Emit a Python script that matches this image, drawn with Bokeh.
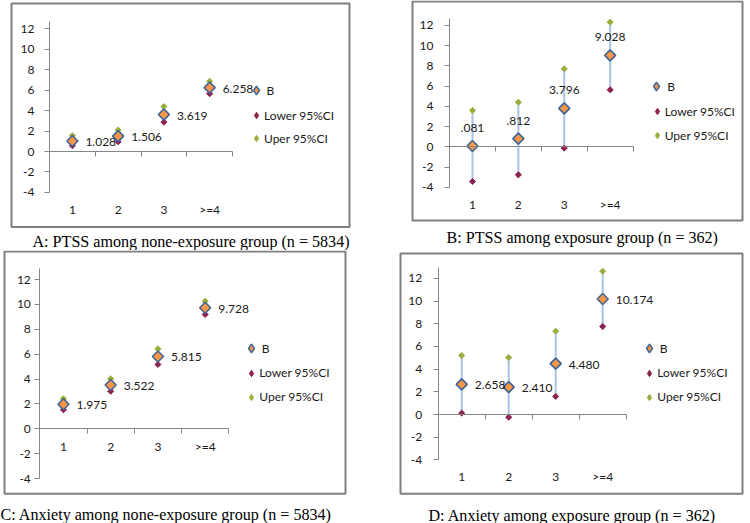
import math
from bokeh.plotting import figure
from bokeh.models import (Range1d, LinearAxis, FixedTicker, Legend, LegendItem,
                          Label, BoxAnnotation, ColumnDataSource)
from bokeh.layouts import row, column
from bokeh.embed import file_html
from bokeh.resources import INLINE
from bokeh.core.properties import value

# ---------------- data ----------------
categories = ["1", "2", "3", ">=4"]
cat_pos = [1, 2, 3, 4]
y_ticks = [-4, -2, 0, 2, 4, 6, 8, 10, 12]
legend_labels = ["B", "Lower 95%CI", "Uper 95%CI"]

a_b = [1.028, 1.506, 3.619, 6.258]
a_lower = [0.57, 0.96, 2.88, 5.66]
a_upper = [1.55, 2.10, 4.40, 6.88]
a_text = ["1.028", "1.506", "3.619", "6.258"]

b_b = [0.081, 0.812, 3.796, 9.028]
b_lower = [-3.43, -2.77, -0.13, 5.63]
b_upper = [3.59, 4.41, 7.70, 12.31]
b_text = [".081", ".812", "3.796", "9.028"]

c_b = [1.975, 3.522, 5.815, 9.728]
c_lower = [1.53, 3.02, 5.17, 9.19]
c_upper = [2.41, 4.02, 6.43, 10.26]
c_text = ["1.975", "3.522", "5.815", "9.728"]

d_b = [2.658, 2.410, 4.480, 10.174]
d_lower = [0.12, -0.24, 1.59, 7.75]
d_upper = [5.20, 5.02, 7.34, 12.62]
d_text = ["2.658", "2.410", "4.480", "10.174"]

captions = ["A: PTSS among none-exposure group (n = 5834)",
            "B: PTSS among exposure group (n = 362)",
            "C: Anxiety among none-exposure group (n = 5834)",
            "D: Anxiety among exposure group (n = 362)"]

# ---------------- style ----------------
B_FILL = "#F79646"
B_LINE = "#3F6496"
LOW_C = "#8E2350"
UP_C = "#9AAE3C"
SEG_C = "#A9C3E5"
AX_C = "#868686"
BOX_C = "#7F7F7F"
TXT_C = "#1a1a1a"
SANS = "Lato"
SERIF = "Liberation Serif"

# geometry in page pixels (cap_mid = vertical middle of the caption line)
geoms = [
    dict(fig=(0, 0, 375, 250), box=(11, 3, 349, 226.5), ax=49, cw=45.75, y0=151, ppu=10.21,
         lab_y=209, ytop=12.76, leg_x=257, leg_y=(90, 115, 138), cap_x=32, cap_mid=240.5,
         std=10, pos="right"),
    dict(fig=(375, 0, 374, 250), box=(412, 1, 742, 220), ax=449, cw=45.9, y0=146.3, ppu=10.125,
         lab_y=204, ytop=12.67, leg_x=657.7, leg_y=(86, 111, 135), cap_x=446, cap_mid=237.3,
         std=11, pos="above"),
    dict(fig=(0, 250, 375, 273), box=(4, 251, 345, 493.3), ax=39.3, cw=47.25, y0=428.3, ppu=12.44,
         lab_y=446.7, ytop=12.9, leg_x=252.3, leg_y=(348.3, 372.7, 396.7), cap_x=0,
         cap_mid=513.8, std=4, pos="right"),
    dict(fig=(375, 250, 374, 273), box=(400, 253, 742, 493.3), ax=437.7, cw=47, y0=414, ppu=11.35,
         lab_y=476.7, ytop=12.98, leg_x=650.3, leg_y=(348.3, 372.7, 396.7), cap_x=428,
         cap_mid=514.8, std=11, pos="right"),
]


def make_panel(g, bvals, lo, hi, texts, caption):
    fx, fy, fw, fh = g["fig"]
    L, T, R, Bt = g["box"]
    ax, cw, y0, ppu = g["ax"], g["cw"], g["y0"], g["ppu"]

    def xv(px):
        return (px - ax) / cw + 0.5

    def yv(py):
        return (y0 - py) / ppu

    p = figure(width=fw, height=fh, x_range=Range1d(xv(fx), xv(fx + fw)),
               y_range=Range1d(yv(fy + fh), yv(fy)),
               x_axis_type=None, y_axis_type=None, toolbar_location=None,
               output_backend="svg",
               min_border_left=0, min_border_right=0, min_border_top=0, min_border_bottom=0)
    p.outline_line_color = None
    p.background_fill_color = "white"
    p.border_fill_color = "white"

    # chart-area border
    p.add_layout(BoxAnnotation(left=xv(L), right=xv(R), top=yv(T), bottom=yv(Bt),
                               fill_color=None, fill_alpha=0, line_color=BOX_C,
                               line_alpha=1, line_width=2, line_dash="solid"))

    yax = LinearAxis(fixed_location=0.5, bounds=(-4, g["ytop"]),
                     ticker=FixedTicker(ticks=y_ticks, minor_ticks=[]),
                     major_label_overrides={t: str(t) for t in y_ticks},
                     axis_line_color=AX_C, major_tick_line_color=AX_C,
                     major_tick_out=5, major_tick_in=0, minor_tick_out=0, minor_tick_in=0,
                     major_label_standoff=g["std"],
                     major_label_text_font=SANS, major_label_text_font_size="12px",
                     major_label_text_color=TXT_C)
    p.add_layout(yax, "left")

    bticks = [1.5, 2.5, 3.5, 4.5]
    xax = LinearAxis(fixed_location=0, bounds=(0.5, 4.5),
                     ticker=FixedTicker(ticks=bticks, minor_ticks=[]),
                     major_label_overrides={t: "" for t in bticks},
                     axis_line_color=AX_C, major_tick_line_color=AX_C,
                     major_tick_out=5, major_tick_in=0, minor_tick_out=0, minor_tick_in=0)
    p.add_layout(xax, "below")

    lax = LinearAxis(fixed_location=yv(g["lab_y"] - 8),
                     ticker=FixedTicker(ticks=cat_pos, minor_ticks=[]),
                     major_label_overrides=dict(zip(cat_pos, categories)),
                     axis_line_color=None, major_tick_line_color=None,
                     major_tick_out=0, major_tick_in=0, minor_tick_out=0, minor_tick_in=0,
                     major_label_standoff=0,
                     major_label_text_font=SANS, major_label_text_font_size="12px",
                     major_label_text_color=TXT_C)
    p.add_layout(lax, "below")

    src = ColumnDataSource(dict(x=cat_pos, b=bvals, lo=lo, hi=hi, lab=texts))
    p.segment(x0="x", y0="lo", x1="x", y1="hi", source=src, line_color=SEG_C, line_width=2)
    p.scatter("x", "lo", source=src, marker="square", angle=math.pi / 4, size=4.3,
              fill_color=LOW_C, line_color=LOW_C, line_width=1)
    p.scatter("x", "hi", source=src, marker="square", angle=math.pi / 4, size=4.3,
              fill_color=UP_C, line_color=UP_C, line_width=1)
    p.scatter("x", "b", source=src, marker="square", angle=math.pi / 4, size=7.8,
              fill_color=B_FILL, line_color=B_LINE, line_width=1.6)
    if g["pos"] == "right":
        p.text("x", "b", text="lab", source=src, x_offset=13, y_offset=1, text_align="left",
               text_baseline="middle", text_font=value(SANS), text_font_size="12px",
               text_color=TXT_C)
    else:
        p.text("x", "b", text="lab", source=src, x_offset=0, y_offset=-18, text_align="center",
               text_baseline="middle", text_font=value(SANS), text_font_size="12px",
               text_color=TXT_C)

    # legend keys (diamond shapes like the Excel legend; not drawn in the plot area)
    lg_b = p.scatter("x", "b", source=src, marker="diamond", fill_color=B_FILL,
                     line_color=B_LINE, line_width=1.5, visible=False)
    lg_lo = p.scatter("x", "lo", source=src, marker="diamond", fill_color=LOW_C,
                      line_color=LOW_C, line_width=1, visible=False)
    lg_hi = p.scatter("x", "hi", source=src, marker="diamond", fill_color=UP_C,
                      line_color=UP_C, line_width=1, visible=False)

    mx = g["leg_x"]
    yb, yl, yu = g["leg_y"]
    gb = 22
    c1 = mx - 1.5
    leg1 = Legend(items=[LegendItem(label=legend_labels[0], renderers=[lg_b])],
                  location=(c1 - gb / 2 - fx, (fy + fh) - (yb + gb / 2)),
                  glyph_width=gb, glyph_height=gb, label_height=gb, label_width=10,
                  label_standoff=0, padding=0, margin=0, spacing=0,
                  background_fill_alpha=0, border_line_color=None,
                  label_text_font=SANS, label_text_font_size="12px", label_text_color=TXT_C)
    gw = 16
    gh = 20
    c2 = mx - 1
    leg2 = Legend(items=[LegendItem(label=legend_labels[1], renderers=[lg_lo]),
                         LegendItem(label=legend_labels[2], renderers=[lg_hi])],
                  location=(c2 - gw / 2 - fx, (fy + fh) - (yu + gh / 2)),
                  glyph_width=gw, glyph_height=gh, label_height=gh, label_width=10,
                  label_standoff=0, padding=0, margin=0, spacing=round(yu - yl - gh),
                  background_fill_alpha=0, border_line_color=None,
                  label_text_font=SANS, label_text_font_size="12px", label_text_color=TXT_C)
    p.add_layout(leg1)
    p.add_layout(leg2)

    p.add_layout(Label(x=xv(g["cap_x"]), y=yv(g["cap_mid"]), text=caption,
                       text_align="left", text_baseline="middle",
                       text_font=SERIF, text_font_size="16.1px", text_color="black"))
    return p


pA = make_panel(geoms[0], a_b, a_lower, a_upper, a_text, captions[0])
pB = make_panel(geoms[1], b_b, b_lower, b_upper, b_text, captions[1])
pC = make_panel(geoms[2], c_b, c_lower, c_upper, c_text, captions[2])
pD = make_panel(geoms[3], d_b, d_lower, d_upper, d_text, captions[3])

root = row(column(pA, pC, spacing=0), column(pB, pD, spacing=0), spacing=0)

open("out.html", "w").write(file_html(root, INLINE))
